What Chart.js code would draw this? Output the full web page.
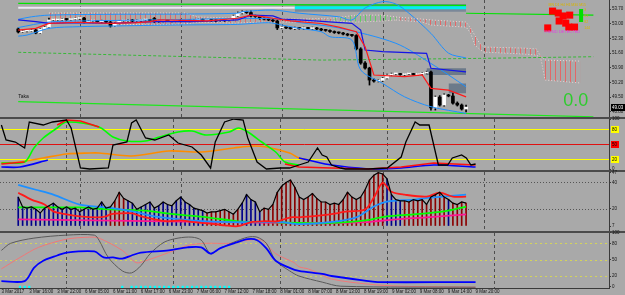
<!DOCTYPE html>
<html>
<head>
<meta charset="utf-8">
<title>USOUSD H1</title>
<script src="https://cdn.jsdelivr.net/npm/chart.js@4.4.1/dist/chart.umd.min.js"></script>
<style>
  html, body { margin: 0; padding: 0; background: #a9a9a9; }
  #chart { position: relative; width: 625px; height: 295px; overflow: hidden; }
  #chart canvas { position: absolute; left: 0; top: 0; }
</style>
</head>
<body>
<div id="chart">
  <canvas id="pricePane" width="625" height="295"></canvas>
  <canvas id="stochPane" width="625" height="295"></canvas>
  <canvas id="adxPane" width="625" height="295"></canvas>
  <canvas id="ozziePane" width="625" height="295"></canvas>
</div>
<script>
// time axis (one slot per H1 bar, a label every 6 bars)
const tickLabels = ['3 Mar 2017', '3 Mar 16:00', '3 Mar 22:00', '6 Mar 05:00', '6 Mar 11:00', '6 Mar 17:00',
  '6 Mar 23:00', '7 Mar 06:00', '7 Mar 12:00', '7 Mar 18:00', '8 Mar 01:00', '8 Mar 07:00', '8 Mar 13:00',
  '8 Mar 19:00', '9 Mar 02:00', '9 Mar 08:00', '9 Mar 14:00', '9 Mar 20:00']
const tickStep = 6
const daySeparators = [14, 37, 60, 83, 106]

// price pane
const priceTicks = [53.70, 53.00, 52.30, 51.60, 50.90, 50.20, 49.50, 48.80]
const open = [52.75, 52.61, 52.65, 52.65, 52.70, 52.56, 52.75, 52.84, 53.18, 53.18,
  53.18, 53.22, 53.20, 53.22, 53.25, 53.27, 53.08, 53.13, 53.13, 53.10,
  53.13, 53.08, 52.89, 53.03, 53.13, 53.13, 53.18, 53.13, 53.15, 53.18,
  53.18, 53.25, 53.10, 53.13, 53.15, 53.13, 53.15, 53.18, 53.13, 53.15,
  53.13, 53.18, 53.20, 53.15, 53.18, 53.15, 53.13, 53.15, 53.18, 53.22,
  53.37, 53.51, 53.56, 53.53, 53.37, 53.34, 53.25, 53.22, 53.18, 53.13,
  52.80, 52.82, 52.80, 52.77, 52.80, 52.77, 52.80, 52.77, 52.80, 52.75,
  52.70, 52.68, 52.63, 52.58, 52.56, 52.51, 52.46, 52.44, 51.80, 51.13,
  50.89, 50.32, 50.27, 50.30, 50.41, 50.56, 50.61, 50.61, 50.58, 50.61,
  50.61, 50.58, 50.61, 50.65, 50.70, 48.99, 49.51, 49.13, 49.61, 49.56,
  49.22, 49.13, 48.94]
const high = [52.80, 52.70, 52.69, 52.74, 52.73, 52.78, 52.88, 53.27, 53.22, 53.22,
  53.25, 53.25, 53.26, 53.28, 53.31, 53.30, 53.16, 53.17, 53.16, 53.17,
  53.16, 53.11, 53.06, 53.16, 53.17, 53.21, 53.21, 53.19, 53.21, 53.22,
  53.21, 53.30, 53.16, 53.19, 53.18, 53.18, 53.21, 53.21, 53.18, 53.18,
  53.21, 53.24, 53.23, 53.21, 53.21, 53.18, 53.18, 53.21, 53.25, 53.41,
  53.56, 53.62, 53.60, 53.61, 53.41, 53.38, 53.28, 53.25, 53.22, 53.18,
  52.86, 52.85, 52.83, 52.84, 52.83, 52.84, 52.83, 52.84, 52.83, 52.78,
  52.73, 52.71, 52.66, 52.61, 52.59, 52.54, 52.50, 52.48, 51.86, 51.20,
  50.93, 50.38, 50.34, 50.45, 50.60, 50.65, 50.64, 50.64, 50.64, 50.65,
  50.64, 50.64, 50.69, 50.74, 50.75, 49.56, 49.58, 49.66, 49.64, 49.70,
  49.28, 49.18, 49.13]
const low = [52.56, 52.58, 52.61, 52.62, 52.52, 52.53, 52.72, 52.80, 53.14, 53.15,
  53.15, 53.16, 53.17, 53.19, 53.21, 53.04, 53.05, 53.09, 53.07, 53.06,
  53.04, 52.84, 52.86, 52.99, 53.09, 53.10, 53.09, 53.10, 53.11, 53.14,
  53.12, 53.06, 53.07, 53.09, 53.10, 53.09, 53.12, 53.09, 53.10, 53.09,
  53.10, 53.14, 53.11, 53.12, 53.11, 53.09, 53.10, 53.11, 53.14, 53.18,
  53.33, 53.47, 53.49, 53.33, 53.30, 53.21, 53.18, 53.14, 53.09, 52.72,
  52.76, 52.76, 52.74, 52.73, 52.74, 52.73, 52.74, 52.73, 52.71, 52.66,
  52.64, 52.59, 52.54, 52.52, 52.47, 52.42, 52.40, 51.75, 51.07, 50.84,
  50.08, 50.22, 50.23, 50.25, 50.37, 50.52, 50.57, 50.55, 50.54, 50.57,
  50.55, 50.54, 50.57, 50.61, 48.89, 48.89, 49.08, 49.08, 49.52, 49.17,
  49.08, 48.89, 48.80]
const close = [52.61, 52.65, 52.65, 52.70, 52.56, 52.75, 52.84, 53.18, 53.18, 53.18,
  53.22, 53.20, 53.22, 53.25, 53.27, 53.08, 53.13, 53.13, 53.10, 53.13,
  53.08, 52.89, 53.03, 53.13, 53.13, 53.18, 53.13, 53.15, 53.18, 53.18,
  53.15, 53.10, 53.13, 53.15, 53.13, 53.15, 53.18, 53.13, 53.15, 53.13,
  53.18, 53.20, 53.15, 53.18, 53.15, 53.13, 53.15, 53.18, 53.22, 53.37,
  53.51, 53.56, 53.53, 53.37, 53.34, 53.25, 53.22, 53.18, 53.13, 52.80,
  52.82, 52.80, 52.77, 52.80, 52.77, 52.80, 52.77, 52.80, 52.75, 52.70,
  52.68, 52.63, 52.58, 52.56, 52.51, 52.46, 52.44, 51.80, 51.13, 50.89,
  50.32, 50.27, 50.30, 50.41, 50.56, 50.61, 50.61, 50.58, 50.61, 50.61,
  50.58, 50.61, 50.65, 50.70, 48.99, 49.51, 49.13, 49.61, 49.56, 49.22,
  49.13, 48.94, 49.03]

// price pane indicators, [bar, price]
const tenkan = [[0, 52.70], [4, 52.78], [7, 53.02], [14, 53.07], [21, 53.02], [27, 53.05], [30, 53.10], [32, 53.18],
  [43, 53.14], [50, 53.26], [53, 53.41], [56, 53.33], [58, 53.26], [62, 53.14], [69, 53.01], [73, 52.84], [77, 52.62],
  [79, 51.90], [81, 50.56], [88, 50.48], [92, 50.56], [94, 49.92], [98, 49.84], [102, 49.52]]
const kijun = [[0, 53.18], [4, 53.10], [7, 53.02], [13, 53.05], [21, 53.02], [31, 53.10], [40, 53.10], [50, 53.18],
  [53, 53.41], [58, 53.37], [60, 53.22], [64, 53.18], [76, 53.02], [78, 52.70], [79, 51.75], [83, 51.67], [93, 51.59],
  [94, 50.88], [102, 50.71]]
const bandUpper = [[0, 53.21], [3, 53.33], [7, 53.41], [21, 53.45], [37, 53.46], [50, 53.50], [51, 53.57], [58, 53.65],
  [64, 53.50], [73, 53.33], [76, 53.18], [79, 53.75], [83, 54.05], [86, 53.94], [89, 53.50], [94, 52.54], [98, 51.60],
  [102, 51.37]]
const bandMiddle = [[0, 52.82], [7, 53.08], [14, 53.13], [37, 53.20], [50, 53.25], [60, 53.22], [64, 53.06], [73, 52.80],
  [86, 52.07], [94, 51.11], [102, 50.00]]
const bandLower = [[0, 52.41], [2, 52.46], [7, 52.78], [14, 52.86], [21, 52.89], [36, 52.94], [50, 52.97], [57, 53.05],
  [60, 52.94], [64, 52.78], [69, 52.62], [71, 52.38], [76, 52.22], [78, 50.80], [83, 50.16], [88, 49.52], [94, 49.05],
  [102, 48.73]]
const cloudIdx = [7, 14, 21, 30, 38, 41, 49, 56, 64, 72, 77, 83, 86, 92, 94, 102, 103, 104, 105, 106, 115, 118, 119, 120, 128]
const cloudTop = [53.51, 53.51, 53.51, 53.51, 53.51, 53.32, 53.27, 53.27, 53.22, 53.27, 53.41, 53.41, 53.32, 53.22, 53.18,
  53.08, 52.80, 52.45, 52.10, 51.89, 51.84, 51.80, 51.45, 51.27, 51.22]
const cloudBottom = [53.08, 53.08, 52.99, 52.94, 52.99, 53.08, 53.03, 53.08, 53.08, 53.13, 53.08, 53.13, 53.18, 53.08, 52.94,
  52.84, 52.56, 51.99, 51.80, 51.65, 51.56, 51.51, 51.37, 50.32, 50.18]
const cloudBullish = [0, 0, 0, 0, 0, 0, 0, 0, 0, 1, 1, 1, 0, 0, 0, 0, 0, 0, 0, 0, 0, 0, 0, 0, 0]
const topBandWhite = [[0, 53.76], [63, 53.76]]
const topBandZone = [[63, 53.94, 53.57], [102, 53.94, 53.57]]
const topBandCyan = [[63, 53.76], [102, 53.76]]
const greenLineTop = [[0, 53.97], [68, 53.90], [102, 53.87]]
const greenLineRight = [[102, 53.50], [131, 53.41]]
const greenLineMid = [[0, 51.64], [69, 51.27], [105, 51.35], [131, 51.43]]
const greenLineLow = [[0, 49.29], [131, 48.57]]
const zoneUpper = [[93, 50.88, 50.56], [102, 50.88, 50.56]]
const zoneLower = [[98, 50.16, 49.69], [102, 50.16, 49.69]]
const dashCells = [[121.7, 53.60], [123.0, 53.51], [124.1, 53.37], [125.6, 53.41], [123.2, 53.13], [124.7, 53.03],
  [125.4, 52.84], [126.7, 52.84], [120.6, 52.80]]
const dashBar = [[128.2, 53.70], [128.2, 53.08]]

// stochastic pane, [bar, value]
const stochTicks = [0, 100]
const stochLevels = [80, 50, 20]
const stochFast = [[0, 88], [1, 58], [3, 54], [5, 42], [6, 94], [9, 88], [11, 94], [14, 98], [15, 82], [17, 2], [19, 0],
  [23, 2], [24, 48], [27, 54], [28, 92], [29, 98], [31, 62], [33, 58], [36, 68], [38, 52], [41, 44], [43, 28], [45, 2],
  [46, 54], [48, 94], [50, 100], [52, 98], [53, 62], [55, 14], [57, 0], [60, 2], [62, 2], [64, 8], [66, 14], [68, 42],
  [69, 28], [70, 24], [71, 8], [73, 2], [74, 0], [79, 0], [83, 2], [86, 24], [87, 54], [89, 94], [90, 88], [92, 88],
  [94, 8], [96, 8], [97, 22], [99, 28], [100, 22], [101, 8], [102, 10]]
const stochSlowUp = [[0, 12], [5, 14], [7, 42], [9, 62], [12, 82], [14, 94], [21, 84], [24, 64], [27, 56], [31, 56],
  [34, 64], [38, 74], [41, 76], [44, 68], [49, 74], [51, 82], [53, 74], [56, 54], [59, 34], [61, 14], [64, 8]]
const stochSlowDown = [[0, 10], [5, 14], [6, null], [12, 88], [14, 98], [17, 96], [21, 84], [22, null], [61, 10],
  [64, 4], [71, 2], [79, 0], [86, 4], [93, 12], [102, 8]]
const stochLongUp = [[0, 12], [4, 14], [9, 22], [14, 30], [19, 32], [21, 32], [28, 26], [36, 36], [43, 34], [50, 42],
  [54, 46], [57, 44], [62, 32], [64, 22], [66, 18]]
const stochLongDown = [[0, 4], [4, 4], [10, 18], [11, null], [64, 22], [66, 18], [71, 8], [79, 0], [82, 0], [86, 2],
  [93, 8], [102, 4]]

// ADX pane
const adxTicks = [47, 40, 20, 7]
const adxLevels = [40, 20]
const adxBase = 7.5
const adxHist = [28.9, 21.5, 20.6, 21.5, 19.7, 16.9, 20.6, 22.4, 24.3, 21.5,
  19.7, 21.5, 19.7, 20.6, 17.8, 19.7, 21.5, 19.7, 20.6, 25.2,
  20.6, 21.5, 26.1, 32.5, 27.9, 26.1, 24.3, 19.7, 21.5, 23.3,
  25.2, 20.6, 22.4, 25.2, 23.3, 22.4, 26.1, 28.9, 25.2, 23.3,
  20.6, 19.7, 18.7, 16.9, 17.8, 17.8, 18.7, 19.7, 17.8, 16.0,
  19.7, 24.3, 30.7, 27.0, 25.2, 17.8, 20.6, 19.7, 23.3, 32.5,
  37.1, 39.9, 41.7, 36.2, 28.9, 27.0, 28.9, 31.6, 27.9, 25.2,
  25.2, 23.3, 24.3, 23.3, 27.0, 32.5, 28.9, 27.0, 28.9, 34.4,
  41.7, 45.4, 47.2, 46.3, 42.6, 30.7, 27.0, 26.1, 26.1, 25.2,
  27.0, 26.1, 27.0, 23.3, 28.9, 30.7, 32.5, 28.9, 27.0, 24.3,
  23.3, 25.2, 24.3]
const adxDir = 'bbbbbbbbbbbbbbbbbbbbbrrrrbbbbbbbbbbbbbbbbbbrrrrrrrrbbbbbrrrrrrrrrrrrrrrrrrrrrrrrrrrrbbbbrrrrrrrrrrbrrrr'
const adx21 = [[0, 32.2], [3, 27.0], [6, 23.3], [8, 18.1], [11, 15.9], [14, 14.4], [18, 13.7], [20, 14.4], [21, 15.9],
  [23, 16.6], [26, 16.6], [28, 14.4], [31, 12.2], [34, 10.7], [37, 11.4], [40, 10.0], [43, 9.2], [47, 7.7], [50, 7.0],
  [53, 10.0], [56, 10.7], [59, 10.7], [62, 13.7], [64, 13.7], [69, 15.1], [71, 15.9], [75, 18.1], [79, 19.6], [81, 28.5],
  [83, 39.6], [85, 32.9], [88, 30.7], [93, 29.2], [96, 32.2], [99, 29.2], [102, 29.2]]
const adx42 = [[0, 38.1], [4, 34.4], [8, 30.7], [14, 23.3], [20, 21.1], [26, 18.1], [31, 14.4], [37, 12.2], [43, 10.7],
  [49, 10.0], [54, 10.0], [60, 10.0], [64, 8.5], [71, 10.0], [77, 13.7], [81, 21.8], [84, 25.5], [90, 27.0], [94, 28.5],
  [102, 30.7]]
const adx89 = [[0, 21.1], [7, 21.1], [14, 21.1], [21, 19.6], [28, 18.9], [36, 15.9], [43, 13.7], [50, 10.7], [57, 10.0],
  [69, 9.2], [75, 10.0], [79, 11.4], [84, 14.4], [90, 15.9], [97, 18.1], [102, 21.8]]
const adx144 = [[0, 12.2], [34, 10.7], [69, 9.2], [79, 10.0], [86, 12.2], [93, 13.7], [102, 15.9]]

// Ozzie delay stochastic pane
const ozzieTicks = [100, 80, 50, 20, 0]
const ozzieLevels = [80, 50, 20]
const ozzieMain = [[0, 10.7], [5, 10.7], [7, 35], [9, 48], [12, 57.6], [14, 63], [20, 65], [22, 54], [24, 54], [26, 52],
  [28, 57.6], [30, 63], [36, 67], [40, 72.6], [43, 72.6], [45, 61], [47, 70.7], [50, 80], [53, 87.6], [55, 85.7],
  [57, 70.7], [59, 48], [62, 35], [64, 29.4], [69, 23.8], [71, 20], [79, 10.7], [81, 8.8], [99, 8.8], [102, 8.8]]
const ozzieFast = [[0, 67], [2, 80], [7, 89.5], [14, 95], [20, 95], [21, 85.7], [23, 54], [26, 29.4], [28, 25.7],
  [30, 38.8], [32, 61], [35, 82], [38, 89.5], [41, 91.3], [43, 85.7], [45, 61], [47, 70.7], [50, 82], [53, 91.3],
  [55, 91.3], [57, 80], [59, 48], [62, 29.4], [64, 20], [69, 8.8], [73, 1.3], [102, -0.6]]
const ozzieSlow = [[0, 33], [4, 54], [8, 72.6], [14, 87.6], [19, 91.3], [21, 89.5], [26, 67], [29, 44.5], [31, 48],
  [36, 63], [40, 76], [44, 80], [49, 80], [53, 85.7], [56, 85.7], [59, 61], [63, 44.5], [64, 37], [66, 33], [68, 26],
  [71, 14.4], [79, 5], [86, 1.3], [102, -0.6]]
const ozzieSignal = [4, 5, 6, 26, 28, 29, 30, 31, 32, 33, 34, 35, 36, 37, 38, 39, 40, 41, 42, 43, 44, 45, 46, 47, 48, 49]

const FONT = '"Liberation Sans", "DejaVu Sans", Arial, sans-serif'
const INK = '#141414'

const pts = arr => arr.map(([x, y]) => ({ x, y }))

function line(data, color, width, extra) {
  return Object.assign({
    type: 'line', data: pts(data), borderColor: color, borderWidth: width,
    pointRadius: 0, pointHoverRadius: 0, tension: 0, fill: false, spanGaps: false, order: 2
  }, extra || {})
}

// filled rectangle from [bar, top, bottom] rows
function zone(rows, color, order) {
  return [
    line(rows.map(r => [r[0], r[1]]), 'rgba(0,0,0,0)', 0, { order }),
    line(rows.map(r => [r[0], r[2]]), 'rgba(0,0,0,0)', 0, { order, fill: '-1', backgroundColor: color })
  ]
}

function hatch(color) {
  const c = document.createElement('canvas')
  c.width = 5
  c.height = 4
  const g = c.getContext('2d')
  g.fillStyle = color
  g.fillRect(0, 0, 1, 4)
  return g.createPattern(c, 'repeat')
}

const decoPlugin = {
  id: 'deco',
  beforeDatasetsDraw(chart, args, opts) {
    const { ctx, chartArea: a, scales: { x, y } } = chart
    ctx.save()
    ctx.beginPath()
    ctx.rect(a.left, a.top, a.right - a.left, a.bottom - a.top)
    ctx.clip()
    ctx.lineWidth = 1
    ctx.strokeStyle = '#4e4e4e'
    ctx.setLineDash([3, 3])
    daySeparators.forEach(i => {
      const px = Math.round(x.getPixelForValue(i)) + 0.5
      ctx.beginPath()
      ctx.moveTo(px, a.top)
      ctx.lineTo(px, a.bottom)
      ctx.stroke()
    })
    ;(opts.levels || []).forEach(l => {
      const py = Math.round(y.getPixelForValue(l.value)) + 0.5
      ctx.strokeStyle = l.color
      ctx.lineWidth = l.width || 1
      ctx.setLineDash(l.dash || [])
      ctx.beginPath()
      ctx.moveTo(a.left, py)
      ctx.lineTo(a.right, py)
      ctx.stroke()
    })
    ctx.restore()
  },
  afterDraw(chart, args, opts) {
    const { ctx, chartArea: a, scales: { x, y } } = chart
    ctx.save()
    ;(opts.texts || []).forEach(t => {
      ctx.font = (t.weight || 'normal') + ' ' + t.size + 'px ' + FONT
      ctx.fillStyle = t.color || INK
      ctx.textAlign = t.align || 'left'
      ctx.textBaseline = 'middle'
      const px = t.at ? x.getPixelForValue(t.at[0]) : a.left + t.dx
      const py = t.at ? y.getPixelForValue(t.at[1]) : a.top + t.dy
      ctx.fillText(t.text, px, py)
    })
    ;(opts.boxes || []).forEach(b => {
      const py = Math.round(y.getPixelForValue(b.value))
      ctx.fillStyle = b.fill
      ctx.fillRect(a.right + 2, py - 3, b.w, 7)
      ctx.fillStyle = b.color
      ctx.font = '4.5px ' + FONT
      ctx.textAlign = 'left'
      ctx.textBaseline = 'middle'
      ctx.fillText(b.text, a.right + 3, py + 0.5)
    })
    if (opts.separator) {
      ctx.fillStyle = '#4a4a4a'
      ctx.fillRect(0, a.bottom, chart.width, 2)
    }
    ctx.restore()
  }
}

function pane(id, top, bottom, yRange, yTicks, yFmt, datasets, deco, showX) {
  return new Chart(document.getElementById(id), {
    type: 'line',
    data: { datasets },
    options: {
      responsive: false,
      animation: false,
      devicePixelRatio: 1,
      events: [],
      layout: { autoPadding: false, padding: { top, bottom, left: 0, right: 0 } },
      plugins: { legend: { display: false }, tooltip: { enabled: false }, deco },
      scales: {
        x: {
          type: 'linear', min: -0.3, max: 130.7, display: showX,
          afterBuildTicks: s => { s.ticks = tickLabels.map((t, k) => ({ value: k * tickStep })) },
          afterFit: s => { s.height = showX ? 7 : 0; s.paddingLeft = 0; s.paddingRight = 0 },
          ticks: {
            autoSkip: false, maxRotation: 0, minRotation: 0, align: 'start', padding: 0, color: INK,
            font: { family: FONT, size: 4.5 }, callback: (v, k) => tickLabels[k]
          },
          grid: { drawOnChartArea: false, drawTicks: true, tickLength: 1, color: '#3a3a3a' },
          border: { display: true, color: '#3a3a3a' }
        },
        y: {
          type: 'linear', position: 'right', min: yRange[0], max: yRange[1],
          afterBuildTicks: s => { s.ticks = yTicks.map(v => ({ value: v })) },
          afterFit: s => { s.width = 16; s.paddingTop = 0; s.paddingBottom = 0 },
          ticks: { padding: 1, color: INK, font: { family: FONT, size: 4.5 }, callback: v => yFmt(v) },
          grid: { drawOnChartArea: false, drawTicks: true, tickLength: 2, color: '#3a3a3a' },
          border: { display: true, color: '#3a3a3a' }
        }
      }
    },
    plugins: [decoPlugin]
  })
}

// ---------- price pane ----------
const redHatch = hatch('#e06868')
const greenHatch = hatch('#5fcf5f')
const last = close.length - 1

pane('pricePane', 0, 178, [48.56, 54.13], priceTicks, v => v.toFixed(2), [
  line(tenkan, '#ff1a1a', 1.2, { order: 1 }),
  line(kijun, '#1414e6', 1.2, { order: 1 }),
  line(bandUpper, '#1e90ff', 1, { order: 2, tension: 0.3 }),
  line(bandMiddle, '#1e90ff', 1, { order: 2, tension: 0.3 }),
  line(bandLower, '#1e90ff', 1, { order: 2, tension: 0.3 }),
  { type: 'bar', data: close.map((c, i) => ({ x: i, y: [open[i], c] })), backgroundColor: close.map((c, i) => c >= open[i] ? '#ffffff' : '#000000'),
    barThickness: 3, minBarLength: 1, grouped: false, order: 3 },
  { type: 'bar', data: close.map((c, i) => ({ x: i, y: [low[i], high[i]] })), backgroundColor: '#000000',
    barThickness: 1, grouped: false, order: 4 },
  line(cloudIdx.map((x, k) => [x, cloudTop[k]]), '#eed6d6', 1, { order: 8, borderDash: [1, 2] }),
  line(cloudIdx.map((x, k) => [x, cloudBottom[k]]), '#eed6d6', 1, {
    order: 8, borderDash: [1, 2], fill: '-1', backgroundColor: redHatch,
    segment: { backgroundColor: c => cloudBullish[c.p0DataIndex] ? greenHatch : redHatch }
  }),
  ...zone(topBandZone, '#7b8899', 7),
  line(topBandCyan, '#00f0f0', 3, { order: 6 }),
  line(topBandWhite, '#ece8f4', 2, { order: 6 }),
  ...zone(zoneUpper, '#6c7a8a', 7),
  ...zone(zoneLower, '#6c7a8a', 7),
  line(greenLineTop, '#00e400', 1.2, { order: 6 }),
  line(greenLineRight, '#00e400', 1.2, { order: 6 }),
  line(greenLineMid, '#38b838', 1, { order: 6, borderDash: [3, 2] }),
  line(greenLineLow, '#1ee81e', 1.3, { order: 6 }),
  line(dashCells, 'rgba(0,0,0,0)', 0, { showLine: false, pointStyle: 'rect', pointRadius: 5, pointBackgroundColor: '#ff0000', pointBorderWidth: 0, order: 0 }),
  line(dashBar, '#00e000', 4, { order: 0 })
], {
  separator: true,
  texts: [
    { text: '\u25BC USOUSD,H1  49.01 49.09 49.01 49.02', dx: 1, dy: 3, size: 5 },
    { text: 'Taka', at: [0, 49.51], size: 5 },
    { text: '0.0', at: [127, 49.32], size: 18, color: '#2ecc2e', align: 'center' },
    { text: 'MN D1 H4 H1 M30 M15', at: [120.8, 53.90], size: 3.5, color: '#d8b400' },
    { text: 'TREND DETECTED', at: [119.7, 52.60], size: 4, color: '#e23fe2' },
    { text: '3', at: [128.9, 53.65], size: 3.5, color: '#d8b400' },
    { text: '61', at: [128.9, 53.37], size: 3.5, color: '#d8b400' },
    { text: '82', at: [128.9, 53.08], size: 3.5, color: '#d8b400' },
    { text: '144', at: [128.9, 52.80], size: 3.5, color: '#d8b400' }
  ],
  boxes: [{ value: close[last], text: close[last].toFixed(2), fill: '#000000', color: '#ffffff', w: 14 }]
}, false)

// ---------- stochastic pane ----------
pane('stochPane', 119, 125, [-2, 100], stochTicks, v => String(v), [
  line(stochFast, '#000000', 1.3, { order: 0 }),
  line(stochSlowDown, '#ff1010', 1.6, { order: 1 }),
  line(stochSlowUp, '#00ff00', 1.6, { order: 2, tension: 0.3 }),
  line(stochLongDown, '#0000ff', 1.6, { order: 3, tension: 0.3 }),
  line(stochLongUp, '#ff8c00', 1.6, { order: 4, tension: 0.3 })
], {
  separator: true,
  levels: [
    { value: stochLevels[0], color: '#ffff00' },
    { value: stochLevels[1], color: '#e01010' },
    { value: stochLevels[2], color: '#ffff00' }
  ],
  boxes: [
    { value: stochLevels[0], text: String(stochLevels[0]), fill: '#ffff00', color: '#000', w: 8 },
    { value: stochLevels[1], text: String(stochLevels[1]), fill: '#ff0000', color: '#000', w: 8 },
    { value: stochLevels[2], text: String(stochLevels[2]), fill: '#ffff00', color: '#000', w: 8 }
  ],
  texts: [{
    text: 'Stochastic(21,3,3,SMA,Close/Close,80,20) 13.0169 10.7535   Stochastic(55,3,3,SMA,Close/Close,80,20) 13.4871 11.2907   Stochastic(180,18,18,SMA,Close/Close,80,20) 6.9369 6.8009',
    dx: 2, dy: 3, size: 4.2
  }]
}, false)

// ---------- ADX pane ----------
pane('adxPane', 172, 64, [3.4, 47.74], adxTicks, v => String(v), [
  line(adxHist.map((v, i) => [i, v]), '#000000', 1.2, { order: 0 }),
  line(adx21, '#ff1a1a', 1.8, { order: 1, tension: 0.3 }),
  line(adx42, '#1e90ff', 1.8, { order: 2, tension: 0.3 }),
  line(adx89, '#00ff00', 1.8, { order: 3, tension: 0.3 }),
  line(adx144, '#ff1493', 1.8, { order: 4, tension: 0.3 }),
  { type: 'bar', data: adxHist.map((v, i) => ({ x: i, y: [adxBase, v] })),
    backgroundColor: adxDir.split('').map(d => d === 'b' ? '#00008b' : '#8b0000'),
    barThickness: 1, grouped: false, order: 9 }
], {
  separator: true,
  levels: adxLevels.map(v => ({ value: v, color: '#555555', dash: [1, 2] })),
  texts: [{
    text: 'ADX(21) 29.8039 +DI:15.1158 -DI:26.9827  ADX(7) 33.0639 +DI:15.0652 -DI:26.1850  ADX(42) 24.5287 +DI:15.1964 -DI:26.9889  ADX(89) 16.3552 +DI:15.7626 -DI:25.4610  ADX(144) 12.2549 +DI:15.3226 -DI:24.1941  Advanced_ADX (7) 0.0800 33.0639',
    dx: 2, dy: 3, size: 4.2
  }]
}, false)

// ---------- Ozzie delay stochastic pane ----------
pane('ozziePane', 233, 0, [-2, 98.9], ozzieTicks, v => String(v), [
  line(ozzieMain, '#0000ff', 1.8, { order: 1, tension: 0.3 }),
  line(ozzieFast, '#5a5a5a', 1, { order: 2, tension: 0.3 }),
  line(ozzieSlow, '#f07878', 1, { order: 3, tension: 0.3 }),
  line(ozzieSignal.map(i => [i, 0]), 'rgba(0,0,0,0)', 0, { showLine: false, pointStyle: 'rect', pointRadius: 1.6, pointBackgroundColor: '#00ffff', pointBorderWidth: 0, order: 0 })
], {
  levels: ozzieLevels.map(v => ({ value: v, color: '#d4d45a', dash: [2, 3] })),
  texts: [{
    text: 'Ozzie Delay Stochastic(6,3,3) 0.2444  HistoMA(14) 0.2851 -10.0000 0.0000 0.0000 0.0000 3.1336',
    dx: 2, dy: 3, size: 4.2
  }]
}, true)
</script>
</body>
</html>
